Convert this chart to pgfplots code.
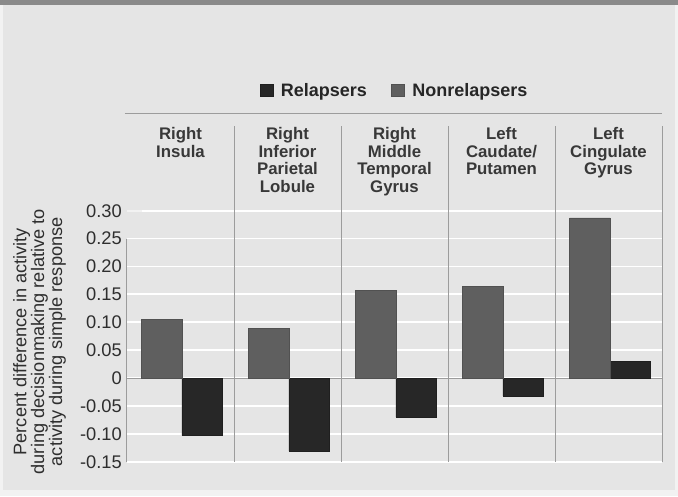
\documentclass[border=0pt]{standalone}
\usepackage{fontspec}
\setmainfont{Liberation Sans}
\usepackage{pgfplots}
\usepackage{pgfplotstable}
\pgfplotsset{compat=1.18}
\definecolor{bg}{HTML}{E5E5E5}
\definecolor{band}{HTML}{8A8A8A}
\definecolor{sepc}{HTML}{9C9C9C}
\definecolor{nonrelc}{HTML}{5F5F5F}
\definecolor{relc}{HTML}{272727}
\definecolor{txt}{HTML}{2E2E2E}
\definecolor{hdr}{HTML}{383838}

\pgfplotstableread{
x nonrel rel
0 0.105 -0.103
1 0.089 -0.131
2 0.157 -0.070
3 0.165 -0.032
4 0.287 0.030
}\datatable

\begin{document}
\begin{tikzpicture}[x=1pt,y=1pt]
\useasboundingbox (0,0) rectangle (678,496);
\fill[white!50!bg] (0,0) rectangle (678,496);
\fill[bg] (3,6) rectangle (675,496);
\fill[band] (0,491) rectangle (678,496);
\begin{axis}[
  at={(127pt,34.3pt)}, anchor=south west,
  scale only axis, width=535pt, height=251pt,
  xmin=-0.5, xmax=4.5, ymin=-0.15, ymax=0.30,
  clip=false,
  axis line style={draw=none},
  xtick=\empty,
  ytick={-0.15,-0.1,-0.05,0,0.05,0.1,0.15,0.2,0.25,0.3},
  yticklabels={-0.15,-0.10,-0.05,0,0.05,0.10,0.15,0.20,0.25,0.30},
  major tick length=0pt,
  /pgf/number format/assume math mode=true,
  ymajorgrids, grid style={white, line width=1.8pt},
  yticklabel style={font=\fontsize{18.3}{20}\selectfont, text=txt, inner sep=0pt, anchor=east, xshift=-5pt},
  ylabel={Percent difference in activity\\during decisionmaking relative to\\activity during simple response},
  every axis y label/.style={at={(axis description cs:-0.1635,0.478)}, rotate=90, anchor=center, align=center, font=\fontsize{18.2}{14.8}\selectfont, text=txt},
  ybar, bar width=40.5pt,
  legend columns=2,
  legend style={draw=none, fill=none, at={(0.5,1.479)}, anchor=center, inner sep=0pt,
    font=\bfseries\fontsize{18}{20}\selectfont, text=black!85,
    /tikz/every odd column/.append style={column sep=6pt},
    /tikz/every even column/.append style={column sep=22pt}},
  legend image code/.code={\fill[#1] (0pt,-6pt) rectangle (13pt,6pt);},
]
\draw[sepc, line width=1pt] (axis cs:-0.5,0) -- (axis cs:4.5,0);
\draw[white!50!bg, line width=2pt] (axis cs:-0.5,0.30) -- (axis cs:-0.36,0.30);
\addplot[fill=relc, draw=relc!80!black, bar shift=21.7pt] table[x=x,y=rel] {\datatable};
\addlegendentry{Relapsers}
\addplot[fill=nonrelc, draw=nonrelc!85!black, bar shift=-18.7pt] table[x=x,y=nonrel] {\datatable};
\addlegendentry{Nonrelapsers}
\draw[sepc, line width=1pt] (axis cs:-0.5,-0.15) -- (axis cs:-0.5,0.25);
\pgfplotsinvokeforeach{0.5,1.5,2.5,3.5,4.5}{
  \draw[sepc, line width=1pt] (axis cs:#1,-0.15) -- (axis cs:#1,0.451);
}
\draw[sepc, line width=1.3pt] (axis cs:-0.519,0.4744) -- (axis cs:4.5,0.4744);
\tikzset{hd/.style={anchor=north, align=center, inner sep=0pt, text=hdr, font=\bfseries\fontsize{16.8}{17.7}\selectfont}}
\node[hd] at (axis cs:0,0.4498) {Right\\Insula};
\node[hd] at (axis cs:1,0.4498) {Right\\Inferior\\Parietal\\Lobule};
\node[hd] at (axis cs:2,0.4498) {Right\\Middle\\Temporal\\Gyrus};
\node[hd] at (axis cs:3,0.4498) {Left\\Caudate/\\Putamen};
\node[hd] at (axis cs:4,0.4498) {Left\\Cingulate\\Gyrus};
\end{axis}
\end{tikzpicture}
\end{document}
